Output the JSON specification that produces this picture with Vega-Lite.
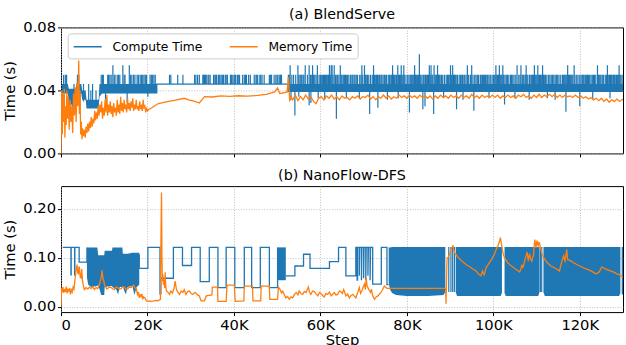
{
  "$schema": "https://vega.github.io/schema/vega-lite/v6.json",
  "autosize": {"type": "pad"},
  "padding": {"left": 2, "top": 7.4, "right": 0, "bottom": 0},
  "background": "#ffffff",
  "config": {
    "font": "DejaVu Sans",
    "view": {"stroke": "#000000", "strokeWidth": 1},
    "title": {"font": "DejaVu Sans", "fontSize": 14.3, "fontWeight": "normal", "color": "#000000", "anchor": "middle", "frame": "group"},
    "axis": {
      "labelFont": "DejaVu Sans", "labelFontSize": 14.7, "labelColor": "#000000",
      "titleFont": "DejaVu Sans", "titleFontSize": 14.7, "titleFontWeight": "normal", "titleColor": "#000000",
      "domain": false, "tickColor": "#000000", "tickSize": 3.5, "labelPadding": 2,
      "grid": true, "gridColor": "#b0b0b0", "gridDash": [1, 1.6], "gridWidth": 0.8
    }
  },
  "datasets": {
    "tb": [
      {"g": 1, "s": 200, "lo": 0.038, "hi": 0.044},
      {"g": 1, "s": 1600, "lo": 0.038, "hi": 0.044},
      {"g": 1, "s": 1800, "lo": 0.031, "hi": 0.041},
      {"g": 1, "s": 3400, "lo": 0.031, "hi": 0.041},
      {"g": 1, "s": 3600, "lo": 0.038, "hi": 0.044},
      {"g": 1, "s": 4700, "lo": 0.038, "hi": 0.044},
      {"g": 1, "s": 4900, "lo": 0.034, "hi": 0.040},
      {"g": 1, "s": 5700, "lo": 0.034, "hi": 0.040},
      {"g": 1, "s": 5900, "lo": 0.0285, "hi": 0.034},
      {"g": 1, "s": 8700, "lo": 0.0285, "hi": 0.034},
      {"g": 1, "s": 8900, "lo": 0.036, "hi": 0.044},
      {"g": 1, "s": 9500, "lo": 0.038, "hi": 0.044},
      {"g": 1, "s": 22300, "lo": 0.038, "hi": 0.044},
      {"g": 2, "s": 52300, "lo": 0.039, "hi": 0.044},
      {"g": 2, "s": 130000, "lo": 0.039, "hi": 0.044}
    ],
    "ts": [
      {"s": 600, "lo": 0.044, "hi": 0.050}, {"s": 1000, "lo": 0.044, "hi": 0.050}, {"s": 1300, "lo": 0.038, "hi": 0.050},
      {"s": 2000, "lo": 0.030, "hi": 0.038}, {"s": 2600, "lo": 0.027, "hi": 0.036}, {"s": 3000, "lo": 0.031, "hi": 0.044},
      {"s": 3800, "lo": 0.044, "hi": 0.050}, {"s": 4100, "lo": 0.044, "hi": 0.050},
      {"s": 4400, "lo": 0.030, "hi": 0.044}, {"s": 5200, "lo": 0.033, "hi": 0.044}, {"s": 6400, "lo": 0.033, "hi": 0.044},
      {"s": 6900, "lo": 0.030, "hi": 0.040}, {"s": 7300, "lo": 0.033, "hi": 0.044}, {"s": 8100, "lo": 0.031, "hi": 0.040},
      {"s": 9300, "lo": 0.044, "hi": 0.050}, {"s": 9600, "lo": 0.044, "hi": 0.050},
      {"s": 9800, "lo": 0.044, "hi": 0.050}, {"s": 10300, "lo": 0.034, "hi": 0.044}, {"s": 10800, "lo": 0.044, "hi": 0.050},
      {"s": 11000, "lo": 0.044, "hi": 0.050}, {"s": 11300, "lo": 0.044, "hi": 0.050}, {"s": 11600, "lo": 0.044, "hi": 0.050},
      {"s": 12000, "lo": 0.044, "hi": 0.056}, {"s": 12300, "lo": 0.044, "hi": 0.050}, {"s": 12500, "lo": 0.044, "hi": 0.050},
      {"s": 13000, "lo": 0.044, "hi": 0.050}, {"s": 13300, "lo": 0.044, "hi": 0.050}, {"s": 13600, "lo": 0.044, "hi": 0.050},
      {"s": 14300, "lo": 0.044, "hi": 0.056}, {"s": 14600, "lo": 0.044, "hi": 0.050},
      {"s": 14800, "lo": 0.044, "hi": 0.050}, {"s": 15300, "lo": 0.032, "hi": 0.044}, {"s": 15800, "lo": 0.044, "hi": 0.056},
      {"s": 16100, "lo": 0.044, "hi": 0.050}, {"s": 16400, "lo": 0.044, "hi": 0.050}, {"s": 16800, "lo": 0.044, "hi": 0.050},
      {"s": 17100, "lo": 0.044, "hi": 0.050}, {"s": 17600, "lo": 0.044, "hi": 0.050}, {"s": 17900, "lo": 0.044, "hi": 0.050},
      {"s": 18300, "lo": 0.044, "hi": 0.050}, {"s": 18600, "lo": 0.044, "hi": 0.050}, {"s": 18900, "lo": 0.044, "hi": 0.050},
      {"s": 19200, "lo": 0.044, "hi": 0.050}, {"s": 19500, "lo": 0.044, "hi": 0.050}, {"s": 19800, "lo": 0.044, "hi": 0.050},
      {"s": 20100, "lo": 0.036, "hi": 0.044}, {"s": 20600, "lo": 0.044, "hi": 0.050}, {"s": 20900, "lo": 0.044, "hi": 0.050},
      {"s": 21200, "lo": 0.044, "hi": 0.050}, {"s": 21500, "lo": 0.044, "hi": 0.050}, {"s": 21800, "lo": 0.044, "hi": 0.050},
      {"s": 25100, "lo": 0.044, "hi": 0.050}, {"s": 25400, "lo": 0.044, "hi": 0.050}, {"s": 27000, "lo": 0.044, "hi": 0.050},
      {"s": 28200, "lo": 0.044, "hi": 0.050}, {"s": 30900, "lo": 0.044, "hi": 0.050}, {"s": 31200, "lo": 0.044, "hi": 0.050},
      {"s": 31600, "lo": 0.044, "hi": 0.050}, {"s": 32000, "lo": 0.044, "hi": 0.050}, {"s": 32800, "lo": 0.044, "hi": 0.050},
      {"s": 33000, "lo": 0.044, "hi": 0.050}, {"s": 33200, "lo": 0.044, "hi": 0.050}, {"s": 33400, "lo": 0.044, "hi": 0.050},
      {"s": 33600, "lo": 0.044, "hi": 0.050}, {"s": 34000, "lo": 0.044, "hi": 0.050}, {"s": 34200, "lo": 0.044, "hi": 0.050},
      {"s": 34500, "lo": 0.044, "hi": 0.050}, {"s": 35300, "lo": 0.044, "hi": 0.050}, {"s": 35600, "lo": 0.044, "hi": 0.050},
      {"s": 35800, "lo": 0.044, "hi": 0.050}, {"s": 36000, "lo": 0.044, "hi": 0.050}, {"s": 36400, "lo": 0.044, "hi": 0.050},
      {"s": 36600, "lo": 0.044, "hi": 0.050}, {"s": 36800, "lo": 0.044, "hi": 0.050}, {"s": 37200, "lo": 0.044, "hi": 0.050},
      {"s": 37400, "lo": 0.044, "hi": 0.050}, {"s": 37600, "lo": 0.044, "hi": 0.050}, {"s": 38000, "lo": 0.044, "hi": 0.050},
      {"s": 38200, "lo": 0.044, "hi": 0.050}, {"s": 38500, "lo": 0.044, "hi": 0.050}, {"s": 39200, "lo": 0.044, "hi": 0.050},
      {"s": 39400, "lo": 0.044, "hi": 0.050}, {"s": 39600, "lo": 0.044, "hi": 0.050}, {"s": 40000, "lo": 0.044, "hi": 0.050},
      {"s": 40200, "lo": 0.044, "hi": 0.050}, {"s": 40400, "lo": 0.044, "hi": 0.050}, {"s": 40800, "lo": 0.044, "hi": 0.050},
      {"s": 41000, "lo": 0.044, "hi": 0.050}, {"s": 41300, "lo": 0.044, "hi": 0.050}, {"s": 42000, "lo": 0.044, "hi": 0.050},
      {"s": 42400, "lo": 0.044, "hi": 0.050}, {"s": 42700, "lo": 0.044, "hi": 0.050}, {"s": 42900, "lo": 0.044, "hi": 0.050},
      {"s": 43400, "lo": 0.044, "hi": 0.050}, {"s": 43800, "lo": 0.044, "hi": 0.050}, {"s": 44700, "lo": 0.044, "hi": 0.050},
      {"s": 45100, "lo": 0.044, "hi": 0.050}, {"s": 45300, "lo": 0.044, "hi": 0.050}, {"s": 45500, "lo": 0.044, "hi": 0.050},
      {"s": 46000, "lo": 0.044, "hi": 0.050}, {"s": 46200, "lo": 0.044, "hi": 0.050}, {"s": 46500, "lo": 0.044, "hi": 0.050},
      {"s": 47000, "lo": 0.044, "hi": 0.050}, {"s": 48200, "lo": 0.044, "hi": 0.050}, {"s": 48500, "lo": 0.044, "hi": 0.050},
      {"s": 48700, "lo": 0.044, "hi": 0.050}, {"s": 49300, "lo": 0.044, "hi": 0.050}, {"s": 49700, "lo": 0.044, "hi": 0.050},
      {"s": 50000, "lo": 0.044, "hi": 0.050}, {"s": 50200, "lo": 0.044, "hi": 0.050}, {"s": 50600, "lo": 0.044, "hi": 0.050},
      {"s": 50800, "lo": 0.044, "hi": 0.050}, {"s": 51000, "lo": 0.044, "hi": 0.050},
      {"s": 52600, "lo": 0.044, "hi": 0.050}, {"s": 52800, "lo": 0.044, "hi": 0.050}, {"s": 53000, "lo": 0.044, "hi": 0.056},
      {"s": 53400, "lo": 0.044, "hi": 0.050}, {"s": 53800, "lo": 0.044, "hi": 0.050}, {"s": 54300, "lo": 0.044, "hi": 0.050},
      {"s": 54800, "lo": 0.044, "hi": 0.056}, {"s": 55000, "lo": 0.044, "hi": 0.050}, {"s": 55300, "lo": 0.044, "hi": 0.050},
      {"s": 55500, "lo": 0.044, "hi": 0.050}, {"s": 55700, "lo": 0.044, "hi": 0.050}, {"s": 56000, "lo": 0.044, "hi": 0.050},
      {"s": 56200, "lo": 0.044, "hi": 0.050}, {"s": 56500, "lo": 0.044, "hi": 0.056}, {"s": 57000, "lo": 0.044, "hi": 0.050},
      {"s": 57400, "lo": 0.044, "hi": 0.056}, {"s": 57700, "lo": 0.044, "hi": 0.050}, {"s": 58000, "lo": 0.044, "hi": 0.050},
      {"s": 58200, "lo": 0.044, "hi": 0.056}, {"s": 58400, "lo": 0.044, "hi": 0.050}, {"s": 58700, "lo": 0.044, "hi": 0.050},
      {"s": 59000, "lo": 0.044, "hi": 0.050}, {"s": 59300, "lo": 0.044, "hi": 0.056}, {"s": 59700, "lo": 0.044, "hi": 0.050},
      {"s": 60000, "lo": 0.044, "hi": 0.050}, {"s": 60200, "lo": 0.044, "hi": 0.050}, {"s": 60450, "lo": 0.044, "hi": 0.050},
      {"s": 60700, "lo": 0.044, "hi": 0.050}, {"s": 60950, "lo": 0.044, "hi": 0.050}, {"s": 61200, "lo": 0.044, "hi": 0.050},
      {"s": 61450, "lo": 0.044, "hi": 0.050}, {"s": 61700, "lo": 0.044, "hi": 0.050}, {"s": 61900, "lo": 0.044, "hi": 0.050},
      {"s": 62100, "lo": 0.044, "hi": 0.056}, {"s": 62300, "lo": 0.044, "hi": 0.050}, {"s": 62500, "lo": 0.044, "hi": 0.056},
      {"s": 62700, "lo": 0.044, "hi": 0.056}, {"s": 62900, "lo": 0.044, "hi": 0.050}, {"s": 63200, "lo": 0.044, "hi": 0.056},
      {"s": 63500, "lo": 0.044, "hi": 0.050}, {"s": 63800, "lo": 0.044, "hi": 0.050}, {"s": 64000, "lo": 0.044, "hi": 0.050},
      {"s": 64300, "lo": 0.044, "hi": 0.050}, {"s": 64600, "lo": 0.044, "hi": 0.056}, {"s": 64800, "lo": 0.044, "hi": 0.050},
      {"s": 65000, "lo": 0.044, "hi": 0.050}, {"s": 65300, "lo": 0.044, "hi": 0.050}, {"s": 65550, "lo": 0.044, "hi": 0.050},
      {"s": 65800, "lo": 0.044, "hi": 0.050}, {"s": 66000, "lo": 0.044, "hi": 0.050}, {"s": 66300, "lo": 0.044, "hi": 0.050},
      {"s": 66600, "lo": 0.044, "hi": 0.050}, {"s": 67000, "lo": 0.044, "hi": 0.050}, {"s": 67300, "lo": 0.044, "hi": 0.050},
      {"s": 67500, "lo": 0.044, "hi": 0.050}, {"s": 67800, "lo": 0.044, "hi": 0.050}, {"s": 68000, "lo": 0.044, "hi": 0.050},
      {"s": 68300, "lo": 0.044, "hi": 0.050}, {"s": 68600, "lo": 0.044, "hi": 0.050}, {"s": 69100, "lo": 0.044, "hi": 0.050},
      {"s": 69400, "lo": 0.044, "hi": 0.050}, {"s": 69600, "lo": 0.044, "hi": 0.056}, {"s": 69800, "lo": 0.044, "hi": 0.050},
      {"s": 70200, "lo": 0.044, "hi": 0.056}, {"s": 70400, "lo": 0.044, "hi": 0.050}, {"s": 70600, "lo": 0.044, "hi": 0.050},
      {"s": 70900, "lo": 0.044, "hi": 0.050}, {"s": 71200, "lo": 0.044, "hi": 0.050}, {"s": 71600, "lo": 0.044, "hi": 0.050},
      {"s": 72000, "lo": 0.044, "hi": 0.050}, {"s": 72300, "lo": 0.044, "hi": 0.056}, {"s": 72500, "lo": 0.044, "hi": 0.050},
      {"s": 72800, "lo": 0.044, "hi": 0.050}, {"s": 73000, "lo": 0.044, "hi": 0.050}, {"s": 73200, "lo": 0.044, "hi": 0.050},
      {"s": 73500, "lo": 0.044, "hi": 0.050}, {"s": 73700, "lo": 0.044, "hi": 0.050}, {"s": 74000, "lo": 0.044, "hi": 0.050},
      {"s": 74200, "lo": 0.044, "hi": 0.050}, {"s": 74500, "lo": 0.044, "hi": 0.050}, {"s": 74800, "lo": 0.044, "hi": 0.050},
      {"s": 75000, "lo": 0.044, "hi": 0.050}, {"s": 75300, "lo": 0.044, "hi": 0.050}, {"s": 75700, "lo": 0.044, "hi": 0.050},
      {"s": 76000, "lo": 0.044, "hi": 0.050}, {"s": 76300, "lo": 0.044, "hi": 0.050}, {"s": 76500, "lo": 0.044, "hi": 0.050},
      {"s": 76700, "lo": 0.044, "hi": 0.056}, {"s": 76900, "lo": 0.044, "hi": 0.050}, {"s": 77100, "lo": 0.044, "hi": 0.050},
      {"s": 77300, "lo": 0.044, "hi": 0.050}, {"s": 77600, "lo": 0.044, "hi": 0.050}, {"s": 77900, "lo": 0.044, "hi": 0.056},
      {"s": 78100, "lo": 0.044, "hi": 0.050}, {"s": 78300, "lo": 0.044, "hi": 0.050}, {"s": 78500, "lo": 0.044, "hi": 0.050},
      {"s": 78700, "lo": 0.044, "hi": 0.056}, {"s": 78900, "lo": 0.044, "hi": 0.050}, {"s": 79100, "lo": 0.044, "hi": 0.050},
      {"s": 79300, "lo": 0.044, "hi": 0.056}, {"s": 79400, "lo": 0.044, "hi": 0.050}, {"s": 79800, "lo": 0.044, "hi": 0.050},
      {"s": 80200, "lo": 0.044, "hi": 0.050}, {"s": 80500, "lo": 0.044, "hi": 0.050}, {"s": 80800, "lo": 0.044, "hi": 0.050},
      {"s": 81000, "lo": 0.044, "hi": 0.050}, {"s": 81200, "lo": 0.044, "hi": 0.050}, {"s": 81400, "lo": 0.044, "hi": 0.050},
      {"s": 81600, "lo": 0.044, "hi": 0.050}, {"s": 81800, "lo": 0.044, "hi": 0.056}, {"s": 82000, "lo": 0.044, "hi": 0.050},
      {"s": 82200, "lo": 0.044, "hi": 0.050}, {"s": 82500, "lo": 0.044, "hi": 0.050}, {"s": 82700, "lo": 0.044, "hi": 0.050},
      {"s": 82900, "lo": 0.044, "hi": 0.063}, {"s": 83200, "lo": 0.044, "hi": 0.050}, {"s": 83500, "lo": 0.044, "hi": 0.050},
      {"s": 83800, "lo": 0.044, "hi": 0.050}, {"s": 84000, "lo": 0.044, "hi": 0.050}, {"s": 84300, "lo": 0.044, "hi": 0.050},
      {"s": 84500, "lo": 0.044, "hi": 0.050}, {"s": 84800, "lo": 0.044, "hi": 0.050}, {"s": 85000, "lo": 0.044, "hi": 0.050},
      {"s": 85200, "lo": 0.044, "hi": 0.056}, {"s": 85400, "lo": 0.044, "hi": 0.050}, {"s": 85600, "lo": 0.044, "hi": 0.056},
      {"s": 85800, "lo": 0.044, "hi": 0.050}, {"s": 86000, "lo": 0.044, "hi": 0.050}, {"s": 86300, "lo": 0.044, "hi": 0.056},
      {"s": 86500, "lo": 0.044, "hi": 0.050}, {"s": 86700, "lo": 0.044, "hi": 0.050}, {"s": 86900, "lo": 0.044, "hi": 0.050},
      {"s": 87100, "lo": 0.044, "hi": 0.056}, {"s": 87300, "lo": 0.044, "hi": 0.050}, {"s": 87500, "lo": 0.044, "hi": 0.050},
      {"s": 87700, "lo": 0.044, "hi": 0.050}, {"s": 88000, "lo": 0.044, "hi": 0.050}, {"s": 88300, "lo": 0.044, "hi": 0.050},
      {"s": 88700, "lo": 0.044, "hi": 0.050}, {"s": 89100, "lo": 0.044, "hi": 0.050}, {"s": 89400, "lo": 0.044, "hi": 0.050},
      {"s": 89600, "lo": 0.044, "hi": 0.050}, {"s": 89800, "lo": 0.044, "hi": 0.050}, {"s": 90100, "lo": 0.044, "hi": 0.056},
      {"s": 90300, "lo": 0.044, "hi": 0.050}, {"s": 90600, "lo": 0.044, "hi": 0.056}, {"s": 90800, "lo": 0.044, "hi": 0.050},
      {"s": 91000, "lo": 0.044, "hi": 0.050}, {"s": 91200, "lo": 0.044, "hi": 0.050}, {"s": 91400, "lo": 0.044, "hi": 0.050},
      {"s": 91700, "lo": 0.044, "hi": 0.050}, {"s": 92100, "lo": 0.044, "hi": 0.050}, {"s": 92400, "lo": 0.044, "hi": 0.050},
      {"s": 92700, "lo": 0.044, "hi": 0.050}, {"s": 92900, "lo": 0.044, "hi": 0.050}, {"s": 93200, "lo": 0.044, "hi": 0.050},
      {"s": 93400, "lo": 0.044, "hi": 0.050}, {"s": 93700, "lo": 0.044, "hi": 0.050}, {"s": 94000, "lo": 0.044, "hi": 0.056},
      {"s": 94300, "lo": 0.044, "hi": 0.050}, {"s": 94700, "lo": 0.044, "hi": 0.050}, {"s": 95000, "lo": 0.044, "hi": 0.056},
      {"s": 95300, "lo": 0.044, "hi": 0.050}, {"s": 95700, "lo": 0.044, "hi": 0.050}, {"s": 96000, "lo": 0.044, "hi": 0.050},
      {"s": 96300, "lo": 0.044, "hi": 0.050}, {"s": 96600, "lo": 0.044, "hi": 0.050}, {"s": 97000, "lo": 0.044, "hi": 0.050},
      {"s": 97200, "lo": 0.044, "hi": 0.050}, {"s": 97500, "lo": 0.044, "hi": 0.050}, {"s": 97700, "lo": 0.044, "hi": 0.050},
      {"s": 98000, "lo": 0.044, "hi": 0.050}, {"s": 98200, "lo": 0.044, "hi": 0.050}, {"s": 98500, "lo": 0.044, "hi": 0.050},
      {"s": 98700, "lo": 0.044, "hi": 0.050}, {"s": 99000, "lo": 0.044, "hi": 0.050}, {"s": 99300, "lo": 0.044, "hi": 0.050},
      {"s": 99700, "lo": 0.044, "hi": 0.050}, {"s": 100000, "lo": 0.044, "hi": 0.050}, {"s": 100200, "lo": 0.044, "hi": 0.050},
      {"s": 100400, "lo": 0.044, "hi": 0.050}, {"s": 100600, "lo": 0.044, "hi": 0.056}, {"s": 100800, "lo": 0.044, "hi": 0.050},
      {"s": 101000, "lo": 0.044, "hi": 0.050}, {"s": 101200, "lo": 0.044, "hi": 0.050}, {"s": 101400, "lo": 0.044, "hi": 0.056},
      {"s": 101600, "lo": 0.044, "hi": 0.050}, {"s": 101800, "lo": 0.044, "hi": 0.050}, {"s": 102000, "lo": 0.044, "hi": 0.050},
      {"s": 102200, "lo": 0.044, "hi": 0.056}, {"s": 102400, "lo": 0.044, "hi": 0.050}, {"s": 102700, "lo": 0.044, "hi": 0.050},
      {"s": 103000, "lo": 0.044, "hi": 0.050}, {"s": 103300, "lo": 0.044, "hi": 0.050}, {"s": 103600, "lo": 0.044, "hi": 0.050},
      {"s": 104000, "lo": 0.044, "hi": 0.050}, {"s": 104200, "lo": 0.044, "hi": 0.050}, {"s": 104500, "lo": 0.044, "hi": 0.050},
      {"s": 104800, "lo": 0.044, "hi": 0.050}, {"s": 105200, "lo": 0.044, "hi": 0.050}, {"s": 105500, "lo": 0.044, "hi": 0.056},
      {"s": 105900, "lo": 0.044, "hi": 0.050}, {"s": 106200, "lo": 0.044, "hi": 0.050}, {"s": 106400, "lo": 0.044, "hi": 0.056},
      {"s": 106700, "lo": 0.044, "hi": 0.050}, {"s": 106900, "lo": 0.044, "hi": 0.050}, {"s": 107100, "lo": 0.044, "hi": 0.050},
      {"s": 107400, "lo": 0.044, "hi": 0.050}, {"s": 107600, "lo": 0.044, "hi": 0.056}, {"s": 107800, "lo": 0.044, "hi": 0.050},
      {"s": 108000, "lo": 0.044, "hi": 0.050}, {"s": 108400, "lo": 0.044, "hi": 0.050}, {"s": 108700, "lo": 0.044, "hi": 0.050},
      {"s": 108900, "lo": 0.044, "hi": 0.050}, {"s": 109100, "lo": 0.044, "hi": 0.050}, {"s": 109300, "lo": 0.044, "hi": 0.050},
      {"s": 109500, "lo": 0.044, "hi": 0.056}, {"s": 109700, "lo": 0.044, "hi": 0.050}, {"s": 109900, "lo": 0.044, "hi": 0.050},
      {"s": 110100, "lo": 0.044, "hi": 0.050}, {"s": 110300, "lo": 0.044, "hi": 0.056}, {"s": 110500, "lo": 0.044, "hi": 0.050},
      {"s": 110700, "lo": 0.044, "hi": 0.050}, {"s": 110900, "lo": 0.044, "hi": 0.050}, {"s": 111100, "lo": 0.044, "hi": 0.050},
      {"s": 111400, "lo": 0.044, "hi": 0.056}, {"s": 111600, "lo": 0.044, "hi": 0.050}, {"s": 111800, "lo": 0.044, "hi": 0.050},
      {"s": 112100, "lo": 0.044, "hi": 0.050}, {"s": 112400, "lo": 0.044, "hi": 0.050}, {"s": 112800, "lo": 0.044, "hi": 0.050},
      {"s": 113100, "lo": 0.044, "hi": 0.050}, {"s": 113400, "lo": 0.044, "hi": 0.050}, {"s": 113700, "lo": 0.044, "hi": 0.050},
      {"s": 114000, "lo": 0.044, "hi": 0.050}, {"s": 114300, "lo": 0.044, "hi": 0.050}, {"s": 114600, "lo": 0.044, "hi": 0.050},
      {"s": 114900, "lo": 0.044, "hi": 0.050}, {"s": 115200, "lo": 0.044, "hi": 0.050}, {"s": 115600, "lo": 0.044, "hi": 0.050},
      {"s": 116000, "lo": 0.044, "hi": 0.050}, {"s": 116200, "lo": 0.044, "hi": 0.050}, {"s": 116400, "lo": 0.044, "hi": 0.050},
      {"s": 116600, "lo": 0.044, "hi": 0.050}, {"s": 116800, "lo": 0.044, "hi": 0.050}, {"s": 117000, "lo": 0.044, "hi": 0.050},
      {"s": 117200, "lo": 0.044, "hi": 0.056}, {"s": 117400, "lo": 0.044, "hi": 0.050}, {"s": 117600, "lo": 0.044, "hi": 0.050},
      {"s": 117800, "lo": 0.044, "hi": 0.050}, {"s": 118000, "lo": 0.044, "hi": 0.050}, {"s": 118200, "lo": 0.044, "hi": 0.050},
      {"s": 118400, "lo": 0.044, "hi": 0.050}, {"s": 118700, "lo": 0.044, "hi": 0.056}, {"s": 118900, "lo": 0.044, "hi": 0.050},
      {"s": 119300, "lo": 0.044, "hi": 0.050}, {"s": 119600, "lo": 0.044, "hi": 0.050}, {"s": 120000, "lo": 0.044, "hi": 0.050},
      {"s": 120300, "lo": 0.044, "hi": 0.050}, {"s": 120600, "lo": 0.044, "hi": 0.050}, {"s": 120800, "lo": 0.044, "hi": 0.050},
      {"s": 121000, "lo": 0.044, "hi": 0.050}, {"s": 121300, "lo": 0.044, "hi": 0.050}, {"s": 121600, "lo": 0.044, "hi": 0.050},
      {"s": 121800, "lo": 0.044, "hi": 0.050}, {"s": 122000, "lo": 0.044, "hi": 0.050}, {"s": 122300, "lo": 0.044, "hi": 0.050},
      {"s": 122600, "lo": 0.044, "hi": 0.050}, {"s": 122900, "lo": 0.044, "hi": 0.050}, {"s": 123200, "lo": 0.044, "hi": 0.050},
      {"s": 123400, "lo": 0.044, "hi": 0.050}, {"s": 123700, "lo": 0.044, "hi": 0.050}, {"s": 124100, "lo": 0.044, "hi": 0.056},
      {"s": 124300, "lo": 0.044, "hi": 0.050}, {"s": 124500, "lo": 0.044, "hi": 0.050}, {"s": 124700, "lo": 0.044, "hi": 0.050},
      {"s": 124900, "lo": 0.044, "hi": 0.050}, {"s": 125200, "lo": 0.044, "hi": 0.050}, {"s": 125500, "lo": 0.044, "hi": 0.050},
      {"s": 125900, "lo": 0.044, "hi": 0.050}, {"s": 126200, "lo": 0.044, "hi": 0.050}, {"s": 126400, "lo": 0.044, "hi": 0.056},
      {"s": 126700, "lo": 0.044, "hi": 0.050}, {"s": 126900, "lo": 0.044, "hi": 0.050}, {"s": 127100, "lo": 0.044, "hi": 0.050},
      {"s": 127300, "lo": 0.044, "hi": 0.050}, {"s": 127500, "lo": 0.044, "hi": 0.050}, {"s": 127800, "lo": 0.044, "hi": 0.050},
      {"s": 128000, "lo": 0.044, "hi": 0.050}, {"s": 128200, "lo": 0.044, "hi": 0.050}, {"s": 128500, "lo": 0.044, "hi": 0.050},
      {"s": 128700, "lo": 0.044, "hi": 0.050}, {"s": 129000, "lo": 0.044, "hi": 0.050}, {"s": 129100, "lo": 0.044, "hi": 0.056},
      {"s": 129300, "lo": 0.044, "hi": 0.050}, {"s": 129500, "lo": 0.044, "hi": 0.050}, {"s": 129800, "lo": 0.044, "hi": 0.050},
      {"s": 53200, "lo": 0.034, "hi": 0.039}, {"s": 54100, "lo": 0.024, "hi": 0.039}, {"s": 55000, "lo": 0.036, "hi": 0.039},
      {"s": 57400, "lo": 0.0305, "hi": 0.039}, {"s": 57800, "lo": 0.032, "hi": 0.039}, {"s": 59500, "lo": 0.035, "hi": 0.039},
      {"s": 61000, "lo": 0.034, "hi": 0.039}, {"s": 63700, "lo": 0.022, "hi": 0.039}, {"s": 66000, "lo": 0.035, "hi": 0.039},
      {"s": 69000, "lo": 0.035, "hi": 0.039}, {"s": 71400, "lo": 0.025, "hi": 0.039}, {"s": 73300, "lo": 0.029, "hi": 0.039},
      {"s": 75500, "lo": 0.034, "hi": 0.039}, {"s": 78000, "lo": 0.035, "hi": 0.039}, {"s": 80600, "lo": 0.026, "hi": 0.039},
      {"s": 83700, "lo": 0.028, "hi": 0.039}, {"s": 84200, "lo": 0.030, "hi": 0.039}, {"s": 86200, "lo": 0.025, "hi": 0.039},
      {"s": 88500, "lo": 0.035, "hi": 0.039}, {"s": 91500, "lo": 0.028, "hi": 0.039}, {"s": 93000, "lo": 0.034, "hi": 0.039},
      {"s": 95500, "lo": 0.027, "hi": 0.039}, {"s": 99000, "lo": 0.035, "hi": 0.039}, {"s": 102600, "lo": 0.031, "hi": 0.039},
      {"s": 105000, "lo": 0.035, "hi": 0.039}, {"s": 108300, "lo": 0.034, "hi": 0.039}, {"s": 112500, "lo": 0.035, "hi": 0.039},
      {"s": 114300, "lo": 0.034, "hi": 0.039}, {"s": 116800, "lo": 0.0265, "hi": 0.039}, {"s": 120000, "lo": 0.030, "hi": 0.039},
      {"s": 123000, "lo": 0.034, "hi": 0.039}, {"s": 127000, "lo": 0.035, "hi": 0.039}
    ],
    "tl": [
      {"s": 22000, "t": 0.044}, {"s": 52400, "t": 0.044}
    ],
    "tm": [
      {"s": 0, "t": 0.0}, {"s": 150, "t": 0.040}, {"s": 300, "t": 0.012}, {"s": 450, "t": 0.038}, {"s": 600, "t": 0.020},
      {"s": 750, "t": 0.041}, {"s": 900, "t": 0.010}, {"s": 1050, "t": 0.030}, {"s": 1200, "t": 0.018}, {"s": 1350, "t": 0.040},
      {"s": 1500, "t": 0.022}, {"s": 1700, "t": 0.036}, {"s": 1900, "t": 0.015}, {"s": 2100, "t": 0.034}, {"s": 2300, "t": 0.020},
      {"s": 2500, "t": 0.030}, {"s": 2700, "t": 0.013}, {"s": 2900, "t": 0.038}, {"s": 3100, "t": 0.024}, {"s": 3300, "t": 0.042},
      {"s": 3500, "t": 0.020}, {"s": 3700, "t": 0.045}, {"s": 3900, "t": 0.030}, {"s": 4100, "t": 0.059}, {"s": 4250, "t": 0.025},
      {"s": 4400, "t": 0.040}, {"s": 4550, "t": 0.012}, {"s": 4700, "t": 0.020}, {"s": 4850, "t": 0.009}, {"s": 5000, "t": 0.016},
      {"s": 5200, "t": 0.011}, {"s": 5400, "t": 0.015}, {"s": 5600, "t": 0.010}, {"s": 5800, "t": 0.017}, {"s": 6000, "t": 0.013},
      {"s": 6200, "t": 0.019}, {"s": 6400, "t": 0.014}, {"s": 6600, "t": 0.020}, {"s": 6800, "t": 0.016}, {"s": 7000, "t": 0.023},
      {"s": 7200, "t": 0.017}, {"s": 7400, "t": 0.022}, {"s": 7600, "t": 0.019}, {"s": 7800, "t": 0.027}, {"s": 8000, "t": 0.021},
      {"s": 8200, "t": 0.026}, {"s": 8400, "t": 0.022}, {"s": 8600, "t": 0.030}, {"s": 8800, "t": 0.024}, {"s": 9000, "t": 0.031},
      {"s": 9200, "t": 0.026}, {"s": 9400, "t": 0.033}, {"s": 9600, "t": 0.022}, {"s": 9800, "t": 0.029}, {"s": 10000, "t": 0.024},
      {"s": 10200, "t": 0.034}, {"s": 10400, "t": 0.026}, {"s": 10600, "t": 0.037}, {"s": 10800, "t": 0.024}, {"s": 11000, "t": 0.031},
      {"s": 11200, "t": 0.026}, {"s": 11400, "t": 0.033}, {"s": 11600, "t": 0.025}, {"s": 11800, "t": 0.030}, {"s": 12000, "t": 0.023},
      {"s": 12200, "t": 0.032}, {"s": 12400, "t": 0.026}, {"s": 12600, "t": 0.029}, {"s": 12800, "t": 0.024}, {"s": 13000, "t": 0.034},
      {"s": 13200, "t": 0.026}, {"s": 13400, "t": 0.031}, {"s": 13600, "t": 0.025}, {"s": 13800, "t": 0.036}, {"s": 14000, "t": 0.027},
      {"s": 14200, "t": 0.032}, {"s": 14400, "t": 0.026}, {"s": 14600, "t": 0.034}, {"s": 14800, "t": 0.028}, {"s": 15000, "t": 0.031},
      {"s": 15200, "t": 0.026}, {"s": 15400, "t": 0.035}, {"s": 15600, "t": 0.028}, {"s": 15800, "t": 0.032}, {"s": 16000, "t": 0.027},
      {"s": 16200, "t": 0.033}, {"s": 16400, "t": 0.029}, {"s": 16600, "t": 0.035}, {"s": 16800, "t": 0.027}, {"s": 17000, "t": 0.031},
      {"s": 17200, "t": 0.028}, {"s": 17400, "t": 0.034}, {"s": 17600, "t": 0.028}, {"s": 17800, "t": 0.030}, {"s": 18000, "t": 0.027},
      {"s": 18200, "t": 0.033}, {"s": 18400, "t": 0.028}, {"s": 18600, "t": 0.031}, {"s": 18800, "t": 0.027}, {"s": 19000, "t": 0.034},
      {"s": 19200, "t": 0.029}, {"s": 19400, "t": 0.030}, {"s": 19600, "t": 0.026}, {"s": 19800, "t": 0.029}, {"s": 20000, "t": 0.027},
      {"s": 20400, "t": 0.028}, {"s": 21000, "t": 0.029}, {"s": 22400, "t": 0.0315}, {"s": 24000, "t": 0.0325}, {"s": 26200, "t": 0.0336},
      {"s": 28500, "t": 0.035}, {"s": 29500, "t": 0.034}, {"s": 31000, "t": 0.033}, {"s": 32000, "t": 0.032}, {"s": 33200, "t": 0.036},
      {"s": 35000, "t": 0.0358}, {"s": 37000, "t": 0.0365}, {"s": 39000, "t": 0.0362}, {"s": 41000, "t": 0.0366}, {"s": 43000, "t": 0.0364},
      {"s": 45500, "t": 0.0368}, {"s": 47500, "t": 0.0375}, {"s": 49400, "t": 0.039}, {"s": 50100, "t": 0.0415}, {"s": 50600, "t": 0.038},
      {"s": 51500, "t": 0.0385}, {"s": 52300, "t": 0.039}, {"s": 52600, "t": 0.0484}, {"s": 52900, "t": 0.033}, {"s": 53200, "t": 0.036},
      {"s": 53600, "t": 0.034}, {"s": 54200, "t": 0.037}, {"s": 54800, "t": 0.0335}, {"s": 55400, "t": 0.036}, {"s": 56000, "t": 0.034},
      {"s": 56600, "t": 0.037}, {"s": 57200, "t": 0.0345}, {"s": 57800, "t": 0.036}, {"s": 58400, "t": 0.033}, {"s": 59000, "t": 0.0315},
      {"s": 59600, "t": 0.035}, {"s": 60200, "t": 0.036}, {"s": 60800, "t": 0.034}, {"s": 61400, "t": 0.0365}, {"s": 62000, "t": 0.035},
      {"s": 62600, "t": 0.037}, {"s": 63200, "t": 0.0345}, {"s": 63800, "t": 0.036}, {"s": 64400, "t": 0.034}, {"s": 65000, "t": 0.0365},
      {"s": 65600, "t": 0.035}, {"s": 66200, "t": 0.0355}, {"s": 66800, "t": 0.034}, {"s": 67400, "t": 0.036}, {"s": 68000, "t": 0.035},
      {"s": 68600, "t": 0.0365}, {"s": 69200, "t": 0.0345}, {"s": 69800, "t": 0.036}, {"s": 70400, "t": 0.0355}, {"s": 71000, "t": 0.037},
      {"s": 71600, "t": 0.0345}, {"s": 72200, "t": 0.036}, {"s": 72800, "t": 0.034}, {"s": 73400, "t": 0.036}, {"s": 74000, "t": 0.035},
      {"s": 74600, "t": 0.037}, {"s": 75200, "t": 0.035}, {"s": 75800, "t": 0.0365}, {"s": 76400, "t": 0.0345}, {"s": 77000, "t": 0.036},
      {"s": 77600, "t": 0.035}, {"s": 78200, "t": 0.037}, {"s": 78800, "t": 0.0355}, {"s": 79400, "t": 0.0365}, {"s": 80000, "t": 0.035},
      {"s": 80600, "t": 0.037}, {"s": 81200, "t": 0.0355}, {"s": 81800, "t": 0.0365}, {"s": 82400, "t": 0.035}, {"s": 83000, "t": 0.037},
      {"s": 83600, "t": 0.0355}, {"s": 84200, "t": 0.0365}, {"s": 84800, "t": 0.035}, {"s": 85400, "t": 0.0365}, {"s": 86000, "t": 0.0345},
      {"s": 86600, "t": 0.0365}, {"s": 87200, "t": 0.035}, {"s": 87800, "t": 0.037}, {"s": 88400, "t": 0.0355}, {"s": 89000, "t": 0.0365},
      {"s": 89600, "t": 0.035}, {"s": 90200, "t": 0.037}, {"s": 90800, "t": 0.0355}, {"s": 91400, "t": 0.0365}, {"s": 92000, "t": 0.035},
      {"s": 92600, "t": 0.037}, {"s": 93200, "t": 0.0355}, {"s": 93800, "t": 0.0365}, {"s": 94400, "t": 0.035}, {"s": 95000, "t": 0.0375},
      {"s": 95600, "t": 0.0355}, {"s": 96200, "t": 0.0365}, {"s": 96800, "t": 0.035}, {"s": 97400, "t": 0.037}, {"s": 98000, "t": 0.0355},
      {"s": 98600, "t": 0.0365}, {"s": 99200, "t": 0.0355}, {"s": 99800, "t": 0.037}, {"s": 100400, "t": 0.0355}, {"s": 101000, "t": 0.037},
      {"s": 101600, "t": 0.035}, {"s": 102200, "t": 0.0365}, {"s": 102800, "t": 0.0355}, {"s": 103400, "t": 0.037}, {"s": 104000, "t": 0.0355},
      {"s": 104600, "t": 0.0365}, {"s": 105200, "t": 0.035}, {"s": 105800, "t": 0.037}, {"s": 106400, "t": 0.036}, {"s": 107000, "t": 0.0375},
      {"s": 107600, "t": 0.0355}, {"s": 108200, "t": 0.0365}, {"s": 108800, "t": 0.035}, {"s": 109400, "t": 0.037}, {"s": 110000, "t": 0.0355},
      {"s": 110600, "t": 0.0375}, {"s": 111200, "t": 0.0355}, {"s": 111800, "t": 0.037}, {"s": 112400, "t": 0.036}, {"s": 113000, "t": 0.0375},
      {"s": 113600, "t": 0.036}, {"s": 114200, "t": 0.0375}, {"s": 114800, "t": 0.0355}, {"s": 115400, "t": 0.037}, {"s": 116000, "t": 0.0355},
      {"s": 116600, "t": 0.037}, {"s": 117200, "t": 0.036}, {"s": 117800, "t": 0.0365}, {"s": 118400, "t": 0.0355}, {"s": 119000, "t": 0.037},
      {"s": 119600, "t": 0.0355}, {"s": 120200, "t": 0.0365}, {"s": 120800, "t": 0.035}, {"s": 121400, "t": 0.036}, {"s": 122000, "t": 0.0345},
      {"s": 122600, "t": 0.0355}, {"s": 123200, "t": 0.034}, {"s": 123800, "t": 0.035}, {"s": 124400, "t": 0.0335}, {"s": 125000, "t": 0.035},
      {"s": 125600, "t": 0.033}, {"s": 126200, "t": 0.0345}, {"s": 126800, "t": 0.0325}, {"s": 127400, "t": 0.034}, {"s": 128000, "t": 0.033},
      {"s": 128600, "t": 0.0345}, {"s": 129200, "t": 0.033}, {"s": 130000, "t": 0.0345}
    ],
    "bb": [
      {"g": 1, "s": 6000, "lo": 0.060, "hi": 0.121}, {"g": 1, "s": 6300, "lo": 0.045, "hi": 0.121},
      {"g": 1, "s": 7000, "lo": 0.040, "hi": 0.121}, {"g": 1, "s": 8400, "lo": 0.042, "hi": 0.121},
      {"g": 1, "s": 8600, "lo": 0.045, "hi": 0.105}, {"g": 1, "s": 9300, "lo": 0.024, "hi": 0.105},
      {"g": 1, "s": 10000, "lo": 0.024, "hi": 0.105}, {"g": 1, "s": 10100, "lo": 0.040, "hi": 0.114},
      {"g": 1, "s": 11800, "lo": 0.042, "hi": 0.114}, {"g": 1, "s": 11900, "lo": 0.040, "hi": 0.121},
      {"g": 1, "s": 12800, "lo": 0.035, "hi": 0.121}, {"g": 1, "s": 13200, "lo": 0.025, "hi": 0.121},
      {"g": 1, "s": 13600, "lo": 0.040, "hi": 0.121}, {"g": 1, "s": 14200, "lo": 0.040, "hi": 0.121},
      {"g": 1, "s": 14300, "lo": 0.040, "hi": 0.108}, {"g": 1, "s": 15000, "lo": 0.025, "hi": 0.108},
      {"g": 1, "s": 15400, "lo": 0.040, "hi": 0.108}, {"g": 1, "s": 16500, "lo": 0.042, "hi": 0.110},
      {"g": 1, "s": 17000, "lo": 0.024, "hi": 0.110}, {"g": 1, "s": 17500, "lo": 0.040, "hi": 0.110},
      {"g": 1, "s": 18100, "lo": 0.045, "hi": 0.110},
      {"g": 2, "s": 50100, "lo": 0.054, "hi": 0.121}, {"g": 2, "s": 52000, "lo": 0.054, "hi": 0.121},
      {"g": 3, "s": 75800, "lo": 0.050, "hi": 0.121}, {"g": 3, "s": 76100, "lo": 0.035, "hi": 0.121},
      {"g": 3, "s": 76600, "lo": 0.028, "hi": 0.122}, {"g": 3, "s": 77500, "lo": 0.024, "hi": 0.122},
      {"g": 3, "s": 80000, "lo": 0.022, "hi": 0.122}, {"g": 3, "s": 85000, "lo": 0.022, "hi": 0.122},
      {"g": 3, "s": 88500, "lo": 0.024, "hi": 0.122}, {"g": 3, "s": 88900, "lo": 0.030, "hi": 0.122},
      {"g": 5, "s": 91300, "lo": 0.030, "hi": 0.122}, {"g": 5, "s": 91600, "lo": 0.022, "hi": 0.122},
      {"g": 5, "s": 101700, "lo": 0.022, "hi": 0.122}, {"g": 5, "s": 102000, "lo": 0.028, "hi": 0.122},
      {"g": 6, "s": 102600, "lo": 0.028, "hi": 0.122}, {"g": 6, "s": 102900, "lo": 0.022, "hi": 0.122},
      {"g": 6, "s": 110400, "lo": 0.022, "hi": 0.122}, {"g": 6, "s": 110700, "lo": 0.030, "hi": 0.122},
      {"g": 7, "s": 111600, "lo": 0.030, "hi": 0.122}, {"g": 7, "s": 111900, "lo": 0.022, "hi": 0.122},
      {"g": 7, "s": 129100, "lo": 0.022, "hi": 0.122}, {"g": 7, "s": 129400, "lo": 0.028, "hi": 0.122},
      {"g": 8, "s": 129700, "lo": 0.025, "hi": 0.122}, {"g": 8, "s": 130000, "lo": 0.025, "hi": 0.122}
    ],
    "br": [
      {"s": 89700, "lo": 0.030, "hi": 0.122}, {"s": 90200, "lo": 0.030, "hi": 0.122},
      {"s": 90600, "lo": 0.030, "hi": 0.122}, {"s": 91000, "lo": 0.030, "hi": 0.122},
      {"s": 110900, "lo": 0.030, "hi": 0.122}, {"s": 111200, "lo": 0.030, "hi": 0.122}
    ],
    "bl": [
      {"g": 1, "s": 400, "t": 0.121}, {"g": 1, "s": 2300, "t": 0.121}, {"g": 1, "s": 2300, "t": 0.065}, {"g": 1, "s": 2350, "t": 0.065},
      {"g": 1, "s": 2350, "t": 0.121}, {"g": 1, "s": 3150, "t": 0.121}, {"g": 1, "s": 3150, "t": 0.065}, {"g": 1, "s": 3200, "t": 0.065},
      {"g": 1, "s": 3200, "t": 0.121}, {"g": 1, "s": 4200, "t": 0.121}, {"g": 1, "s": 4200, "t": 0.091}, {"g": 1, "s": 6000, "t": 0.091},
      {"g": 1, "s": 6000, "t": 0.121},
      {"g": 2, "s": 18100, "t": 0.107}, {"g": 2, "s": 18100, "t": 0.078}, {"g": 2, "s": 20100, "t": 0.078}, {"g": 2, "s": 20100, "t": 0.121},
      {"g": 2, "s": 22900, "t": 0.121}, {"g": 2, "s": 22900, "t": 0.026}, {"g": 2, "s": 23100, "t": 0.026}, {"g": 2, "s": 23100, "t": 0.058},
      {"g": 2, "s": 26000, "t": 0.058}, {"g": 2, "s": 26000, "t": 0.121}, {"g": 2, "s": 28100, "t": 0.121}, {"g": 2, "s": 28100, "t": 0.084},
      {"g": 2, "s": 30200, "t": 0.084}, {"g": 2, "s": 30200, "t": 0.121}, {"g": 2, "s": 32200, "t": 0.121}, {"g": 2, "s": 32200, "t": 0.051},
      {"g": 2, "s": 34300, "t": 0.051}, {"g": 2, "s": 34300, "t": 0.121}, {"g": 2, "s": 36300, "t": 0.121}, {"g": 2, "s": 36300, "t": 0.039},
      {"g": 2, "s": 38200, "t": 0.039}, {"g": 2, "s": 38200, "t": 0.121}, {"g": 2, "s": 40200, "t": 0.121}, {"g": 2, "s": 40200, "t": 0.039},
      {"g": 2, "s": 42400, "t": 0.039}, {"g": 2, "s": 42400, "t": 0.121}, {"g": 2, "s": 44100, "t": 0.121}, {"g": 2, "s": 44100, "t": 0.039},
      {"g": 2, "s": 46100, "t": 0.039}, {"g": 2, "s": 46100, "t": 0.121}, {"g": 2, "s": 48200, "t": 0.121}, {"g": 2, "s": 48200, "t": 0.039},
      {"g": 2, "s": 50100, "t": 0.039}, {"g": 2, "s": 50100, "t": 0.121},
      {"g": 3, "s": 52000, "t": 0.063}, {"g": 3, "s": 54100, "t": 0.063}, {"g": 3, "s": 54100, "t": 0.083}, {"g": 3, "s": 56100, "t": 0.083},
      {"g": 3, "s": 56100, "t": 0.107}, {"g": 3, "s": 57600, "t": 0.107}, {"g": 3, "s": 57600, "t": 0.078}, {"g": 3, "s": 62100, "t": 0.078},
      {"g": 3, "s": 62100, "t": 0.092}, {"g": 3, "s": 64200, "t": 0.092}, {"g": 3, "s": 64200, "t": 0.121}, {"g": 3, "s": 65900, "t": 0.121},
      {"g": 3, "s": 65900, "t": 0.063}, {"g": 3, "s": 68200, "t": 0.063}, {"g": 3, "s": 68200, "t": 0.121}, {"g": 3, "s": 68500, "t": 0.121},
      {"g": 3, "s": 68500, "t": 0.054}, {"g": 3, "s": 68600, "t": 0.054}, {"g": 3, "s": 68600, "t": 0.121}, {"g": 3, "s": 69000, "t": 0.121},
      {"g": 3, "s": 69000, "t": 0.063}, {"g": 3, "s": 69100, "t": 0.121}, {"g": 3, "s": 69500, "t": 0.121}, {"g": 3, "s": 69500, "t": 0.054},
      {"g": 3, "s": 69600, "t": 0.121}, {"g": 3, "s": 70000, "t": 0.121}, {"g": 3, "s": 70000, "t": 0.058}, {"g": 3, "s": 70100, "t": 0.121},
      {"g": 3, "s": 70500, "t": 0.121}, {"g": 3, "s": 70500, "t": 0.054}, {"g": 3, "s": 70600, "t": 0.121}, {"g": 3, "s": 71000, "t": 0.121},
      {"g": 3, "s": 71000, "t": 0.063}, {"g": 3, "s": 71100, "t": 0.121}, {"g": 3, "s": 71500, "t": 0.121}, {"g": 3, "s": 71500, "t": 0.054},
      {"g": 3, "s": 71600, "t": 0.121}, {"g": 3, "s": 72100, "t": 0.121}, {"g": 3, "s": 72100, "t": 0.046}, {"g": 3, "s": 74100, "t": 0.046},
      {"g": 3, "s": 74100, "t": 0.121}, {"g": 3, "s": 75400, "t": 0.121}, {"g": 3, "s": 75400, "t": 0.045}, {"g": 3, "s": 75800, "t": 0.045}
    ],
    "bm": [
      {"s": 0, "t": 0.001}, {"s": 150, "t": 0.039}, {"s": 300, "t": 0.030}, {"s": 450, "t": 0.040}, {"s": 600, "t": 0.028},
      {"s": 800, "t": 0.036}, {"s": 1000, "t": 0.030}, {"s": 1200, "t": 0.041}, {"s": 1400, "t": 0.027}, {"s": 1600, "t": 0.035},
      {"s": 1800, "t": 0.032}, {"s": 2000, "t": 0.038}, {"s": 2200, "t": 0.025}, {"s": 2400, "t": 0.034}, {"s": 2600, "t": 0.030},
      {"s": 2800, "t": 0.040}, {"s": 3000, "t": 0.036}, {"s": 3100, "t": 0.044}, {"s": 3300, "t": 0.060}, {"s": 3480, "t": 0.073},
      {"s": 3710, "t": 0.086}, {"s": 3850, "t": 0.070}, {"s": 4020, "t": 0.066}, {"s": 4150, "t": 0.082}, {"s": 4250, "t": 0.080},
      {"s": 4450, "t": 0.060}, {"s": 4630, "t": 0.059}, {"s": 4790, "t": 0.077}, {"s": 4950, "t": 0.055}, {"s": 5100, "t": 0.046},
      {"s": 5400, "t": 0.035}, {"s": 5800, "t": 0.039}, {"s": 6200, "t": 0.036}, {"s": 6600, "t": 0.040}, {"s": 6950, "t": 0.037},
      {"s": 7300, "t": 0.041}, {"s": 7700, "t": 0.035}, {"s": 8100, "t": 0.039}, {"s": 8500, "t": 0.037}, {"s": 8800, "t": 0.043},
      {"s": 9100, "t": 0.052}, {"s": 9300, "t": 0.060}, {"s": 9500, "t": 0.074}, {"s": 9700, "t": 0.058}, {"s": 9900, "t": 0.052},
      {"s": 10100, "t": 0.044}, {"s": 10300, "t": 0.041}, {"s": 10600, "t": 0.036}, {"s": 10800, "t": 0.037}, {"s": 11200, "t": 0.040},
      {"s": 11600, "t": 0.039}, {"s": 12000, "t": 0.036}, {"s": 12300, "t": 0.035}, {"s": 12700, "t": 0.040}, {"s": 13100, "t": 0.039},
      {"s": 13500, "t": 0.036}, {"s": 13900, "t": 0.037}, {"s": 14300, "t": 0.041}, {"s": 14700, "t": 0.039}, {"s": 15100, "t": 0.035},
      {"s": 15400, "t": 0.036}, {"s": 15800, "t": 0.040}, {"s": 16200, "t": 0.039}, {"s": 16500, "t": 0.042}, {"s": 16800, "t": 0.044},
      {"s": 17100, "t": 0.038}, {"s": 17400, "t": 0.037}, {"s": 17700, "t": 0.025}, {"s": 17900, "t": 0.030}, {"s": 18100, "t": 0.018},
      {"s": 18300, "t": 0.024}, {"s": 18500, "t": 0.021}, {"s": 18700, "t": 0.026}, {"s": 18900, "t": 0.015}, {"s": 19100, "t": 0.020},
      {"s": 19400, "t": 0.018}, {"s": 19700, "t": 0.013}, {"s": 19900, "t": 0.011}, {"s": 20300, "t": 0.012}, {"s": 20800, "t": 0.011},
      {"s": 21500, "t": 0.012}, {"s": 22000, "t": 0.013}, {"s": 22400, "t": 0.012}, {"s": 23000, "t": 0.015}, {"s": 23100, "t": 0.120},
      {"s": 23250, "t": 0.233}, {"s": 23350, "t": 0.100}, {"s": 23450, "t": 0.052}, {"s": 23550, "t": 0.066}, {"s": 23700, "t": 0.045},
      {"s": 23850, "t": 0.055}, {"s": 24000, "t": 0.038}, {"s": 24100, "t": 0.070}, {"s": 24250, "t": 0.040}, {"s": 24400, "t": 0.032},
      {"s": 24700, "t": 0.030}, {"s": 25100, "t": 0.025}, {"s": 25400, "t": 0.032}, {"s": 25800, "t": 0.028}, {"s": 26100, "t": 0.036},
      {"s": 26400, "t": 0.052}, {"s": 26700, "t": 0.035}, {"s": 27000, "t": 0.030}, {"s": 27400, "t": 0.025}, {"s": 27800, "t": 0.032},
      {"s": 28200, "t": 0.029}, {"s": 28500, "t": 0.035}, {"s": 28900, "t": 0.025}, {"s": 29300, "t": 0.031}, {"s": 29700, "t": 0.032},
      {"s": 30100, "t": 0.027}, {"s": 30500, "t": 0.025}, {"s": 30900, "t": 0.029}, {"s": 31200, "t": 0.028}, {"s": 31600, "t": 0.024},
      {"s": 32000, "t": 0.022}, {"s": 32400, "t": 0.012}, {"s": 33200, "t": 0.012}, {"s": 33600, "t": 0.022}, {"s": 34900, "t": 0.024},
      {"s": 35000, "t": 0.040}, {"s": 36200, "t": 0.040}, {"s": 36300, "t": 0.011}, {"s": 38200, "t": 0.011}, {"s": 38400, "t": 0.044},
      {"s": 40100, "t": 0.044}, {"s": 40300, "t": 0.011}, {"s": 42300, "t": 0.012}, {"s": 42400, "t": 0.042}, {"s": 44300, "t": 0.042},
      {"s": 44400, "t": 0.012}, {"s": 46200, "t": 0.012}, {"s": 46300, "t": 0.042}, {"s": 48200, "t": 0.042}, {"s": 48300, "t": 0.015},
      {"s": 50100, "t": 0.015}, {"s": 50300, "t": 0.040}, {"s": 50700, "t": 0.035}, {"s": 51000, "t": 0.028}, {"s": 51300, "t": 0.032},
      {"s": 51700, "t": 0.024}, {"s": 52000, "t": 0.018}, {"s": 52400, "t": 0.021}, {"s": 52800, "t": 0.015}, {"s": 53200, "t": 0.020},
      {"s": 53600, "t": 0.018}, {"s": 54000, "t": 0.025}, {"s": 54400, "t": 0.029}, {"s": 54800, "t": 0.024}, {"s": 55100, "t": 0.032},
      {"s": 55500, "t": 0.027}, {"s": 55900, "t": 0.025}, {"s": 56300, "t": 0.031}, {"s": 56700, "t": 0.029}, {"s": 57200, "t": 0.040},
      {"s": 57500, "t": 0.030}, {"s": 57800, "t": 0.025}, {"s": 58200, "t": 0.032}, {"s": 58600, "t": 0.031}, {"s": 59000, "t": 0.026},
      {"s": 59400, "t": 0.022}, {"s": 59800, "t": 0.029}, {"s": 60100, "t": 0.027}, {"s": 60500, "t": 0.023}, {"s": 60900, "t": 0.020},
      {"s": 61300, "t": 0.027}, {"s": 61700, "t": 0.025}, {"s": 62100, "t": 0.030}, {"s": 62500, "t": 0.022}, {"s": 62900, "t": 0.026},
      {"s": 63200, "t": 0.029}, {"s": 63600, "t": 0.024}, {"s": 64000, "t": 0.025}, {"s": 64400, "t": 0.032}, {"s": 64800, "t": 0.030},
      {"s": 65100, "t": 0.027}, {"s": 65400, "t": 0.035}, {"s": 65900, "t": 0.022}, {"s": 66300, "t": 0.026}, {"s": 66700, "t": 0.018},
      {"s": 67100, "t": 0.023}, {"s": 67500, "t": 0.025}, {"s": 67900, "t": 0.021}, {"s": 68200, "t": 0.018}, {"s": 68600, "t": 0.028},
      {"s": 69000, "t": 0.039}, {"s": 69300, "t": 0.027}, {"s": 69600, "t": 0.032}, {"s": 69900, "t": 0.040}, {"s": 70200, "t": 0.046},
      {"s": 70400, "t": 0.035}, {"s": 70600, "t": 0.059}, {"s": 70800, "t": 0.042}, {"s": 71000, "t": 0.039}, {"s": 71300, "t": 0.033},
      {"s": 71600, "t": 0.029}, {"s": 71800, "t": 0.036}, {"s": 72100, "t": 0.022}, {"s": 72500, "t": 0.015}, {"s": 72900, "t": 0.020},
      {"s": 73300, "t": 0.022}, {"s": 73700, "t": 0.026}, {"s": 74000, "t": 0.029}, {"s": 74400, "t": 0.035}, {"s": 74800, "t": 0.042},
      {"s": 75400, "t": 0.0375}, {"s": 89000, "t": 0.0375}, {"s": 89060, "t": 0.006}, {"s": 89300, "t": 0.099}, {"s": 89600, "t": 0.101},
      {"s": 89900, "t": 0.108}, {"s": 90100, "t": 0.113}, {"s": 90300, "t": 0.119}, {"s": 90500, "t": 0.122}, {"s": 90700, "t": 0.124},
      {"s": 90850, "t": 0.117}, {"s": 91000, "t": 0.110}, {"s": 91400, "t": 0.106}, {"s": 91800, "t": 0.101}, {"s": 92200, "t": 0.098},
      {"s": 92500, "t": 0.095}, {"s": 93000, "t": 0.091}, {"s": 93400, "t": 0.088}, {"s": 93700, "t": 0.086}, {"s": 94200, "t": 0.083},
      {"s": 94800, "t": 0.080}, {"s": 95400, "t": 0.076}, {"s": 96000, "t": 0.073}, {"s": 96400, "t": 0.069}, {"s": 96800, "t": 0.065},
      {"s": 97200, "t": 0.063}, {"s": 97500, "t": 0.073}, {"s": 97700, "t": 0.068}, {"s": 97900, "t": 0.065}, {"s": 98200, "t": 0.076},
      {"s": 98400, "t": 0.081}, {"s": 98800, "t": 0.086}, {"s": 99100, "t": 0.090}, {"s": 99500, "t": 0.095}, {"s": 99900, "t": 0.101},
      {"s": 100300, "t": 0.108}, {"s": 100600, "t": 0.115}, {"s": 100900, "t": 0.121}, {"s": 101200, "t": 0.127}, {"s": 101450, "t": 0.134},
      {"s": 101650, "t": 0.141}, {"s": 101800, "t": 0.132}, {"s": 101950, "t": 0.125}, {"s": 102150, "t": 0.114}, {"s": 102400, "t": 0.104},
      {"s": 102800, "t": 0.097}, {"s": 103300, "t": 0.090}, {"s": 103900, "t": 0.085}, {"s": 104500, "t": 0.081}, {"s": 105000, "t": 0.078},
      {"s": 105600, "t": 0.074}, {"s": 106100, "t": 0.071}, {"s": 106400, "t": 0.078}, {"s": 106600, "t": 0.086}, {"s": 106800, "t": 0.080},
      {"s": 107000, "t": 0.083}, {"s": 107200, "t": 0.092}, {"s": 107400, "t": 0.099}, {"s": 107600, "t": 0.104}, {"s": 107800, "t": 0.112},
      {"s": 108000, "t": 0.100}, {"s": 108100, "t": 0.093}, {"s": 108300, "t": 0.104}, {"s": 108400, "t": 0.108}, {"s": 108600, "t": 0.098},
      {"s": 108900, "t": 0.093}, {"s": 109100, "t": 0.100}, {"s": 109300, "t": 0.104}, {"s": 109450, "t": 0.125}, {"s": 109600, "t": 0.137},
      {"s": 109750, "t": 0.126}, {"s": 109900, "t": 0.120}, {"s": 110000, "t": 0.130}, {"s": 110100, "t": 0.135}, {"s": 110250, "t": 0.128},
      {"s": 110400, "t": 0.124}, {"s": 110550, "t": 0.131}, {"s": 110700, "t": 0.130}, {"s": 110850, "t": 0.122}, {"s": 111000, "t": 0.117},
      {"s": 111200, "t": 0.110}, {"s": 111400, "t": 0.104}, {"s": 111800, "t": 0.098}, {"s": 112200, "t": 0.093}, {"s": 112700, "t": 0.088},
      {"s": 113300, "t": 0.083}, {"s": 113900, "t": 0.080}, {"s": 114500, "t": 0.078}, {"s": 114900, "t": 0.075}, {"s": 115300, "t": 0.073},
      {"s": 115550, "t": 0.082}, {"s": 115800, "t": 0.090}, {"s": 116000, "t": 0.097}, {"s": 116300, "t": 0.104}, {"s": 116450, "t": 0.096},
      {"s": 116600, "t": 0.093}, {"s": 116800, "t": 0.106}, {"s": 117000, "t": 0.117}, {"s": 117100, "t": 0.104}, {"s": 117200, "t": 0.096},
      {"s": 117600, "t": 0.095}, {"s": 118000, "t": 0.093}, {"s": 118700, "t": 0.089}, {"s": 119500, "t": 0.085}, {"s": 120300, "t": 0.082},
      {"s": 121100, "t": 0.078}, {"s": 121800, "t": 0.076}, {"s": 122600, "t": 0.073}, {"s": 123200, "t": 0.070}, {"s": 123800, "t": 0.067},
      {"s": 124200, "t": 0.069}, {"s": 124500, "t": 0.071}, {"s": 124800, "t": 0.076}, {"s": 125100, "t": 0.081}, {"s": 125400, "t": 0.080},
      {"s": 125700, "t": 0.078}, {"s": 126200, "t": 0.076}, {"s": 126800, "t": 0.074}, {"s": 127400, "t": 0.072}, {"s": 128000, "t": 0.070},
      {"s": 128600, "t": 0.067}, {"s": 129200, "t": 0.065}, {"s": 130000, "t": 0.060}
    ]
  },
  "vconcat": [
    {
      "width": 562,
      "height": 126,
      "title": {"text": "(a) BlendServe", "offset": -3},
      "layer": [
        {
          "data": {"name": "tb"},
          "mark": {"type": "area", "color": "#1f77b4", "opacity": 1, "clip": true},
          "encoding": {
            "x": {"field": "s", "type": "quantitative", "scale": {"domain": [0, 130000], "nice": false, "zero": false},
                  "axis": {"values": [0, 20000, 40000, 60000, 80000, 100000, 120000], "labels": false, "title": null}},
            "y": {"field": "lo", "type": "quantitative", "scale": {"domain": [0, 0.08], "nice": false},
                  "axis": {"values": [0, 0.02, 0.04, 0.06, 0.08], "format": ".2f", "title": "Time (s)", "titlePadding": 5}},
            "y2": {"field": "hi"},
            "detail": {"field": "g"}
          }
        },
        {
          "data": {"name": "ts"},
          "mark": {"type": "rule", "color": "#1f77b4", "strokeWidth": 1.2, "clip": true},
          "encoding": {
            "x": {"field": "s", "type": "quantitative"},
            "y": {"field": "lo", "type": "quantitative"},
            "y2": {"field": "hi"}
          }
        },
        {
          "data": {"name": "tl"},
          "mark": {"type": "line", "strokeWidth": 1.3, "clip": true},
          "encoding": {
            "x": {"field": "s", "type": "quantitative"},
            "y": {"field": "t", "type": "quantitative"},
            "color": {
              "datum": "Compute Time", "type": "nominal",
              "scale": {"domain": ["Compute Time", "Memory Time"], "range": ["#1f77b4", "#ff7f0e"]},
              "legend": {
                "orient": "none", "legendX": 6.7, "legendY": 6, "direction": "horizontal", "title": null,
                "symbolType": "M-2,0H2", "symbolSize": 196, "symbolStrokeWidth": 1.5, "symbolOffset": 7,
                "labelFont": "DejaVu Sans", "labelFontSize": 12.3, "labelColor": "#000000", "labelOffset": 16.7,
                "columnPadding": 24, "padding": 5, "fillColor": "#ffffff", "strokeColor": "#cccccc", "cornerRadius": 3
              }
            }
          }
        },
        {
          "data": {"name": "tm"},
          "mark": {"type": "line", "strokeWidth": 1.3, "clip": true},
          "encoding": {
            "x": {"field": "s", "type": "quantitative"},
            "y": {"field": "t", "type": "quantitative"},
            "color": {"datum": "Memory Time", "type": "nominal"}
          }
        }
      ]
    },
    {
      "width": 562,
      "height": 126,
      "title": {"text": "(b) NanoFlow-DFS", "offset": 3},
      "layer": [
        {
          "data": {"name": "bb"},
          "mark": {"type": "area", "color": "#1f77b4", "opacity": 1, "clip": true},
          "encoding": {
            "x": {"field": "s", "type": "quantitative", "scale": {"domain": [0, 130000], "nice": false, "zero": false},
                  "axis": {"values": [0, 20000, 40000, 60000, 80000, 100000, 120000], "title": "Step", "titlePadding": 0,
                           "labelExpr": "datum.value == 0 ? '0' : format(datum.value / 1000, 'd') + 'K'"}},
            "y": {"field": "lo", "type": "quantitative", "scale": {"domain": [-0.011, 0.246], "nice": false, "zero": false},
                  "axis": {"values": [0, 0.1, 0.2], "format": ".2f", "title": "Time (s)", "titlePadding": 5}},
            "y2": {"field": "hi"},
            "detail": {"field": "g"}
          }
        },
        {
          "data": {"name": "br"},
          "mark": {"type": "rule", "color": "#1f77b4", "strokeWidth": 1.2, "clip": true},
          "encoding": {
            "x": {"field": "s", "type": "quantitative"},
            "y": {"field": "lo", "type": "quantitative"},
            "y2": {"field": "hi"}
          }
        },
        {
          "data": {"name": "bl"},
          "mark": {"type": "line", "color": "#1f77b4", "strokeWidth": 1.3, "clip": true},
          "encoding": {
            "x": {"field": "s", "type": "quantitative"},
            "y": {"field": "t", "type": "quantitative"},
            "detail": {"field": "g"},
            "order": {"value": null}
          }
        },
        {
          "data": {"name": "bm"},
          "mark": {"type": "line", "color": "#ff7f0e", "strokeWidth": 1.3, "clip": true},
          "encoding": {
            "x": {"field": "s", "type": "quantitative"},
            "y": {"field": "t", "type": "quantitative"}
          }
        }
      ]
    }
  ],
  "spacing": 6.7,
  "resolve": {"scale": {"color": "independent"}, "legend": {"color": "independent"}}
}
